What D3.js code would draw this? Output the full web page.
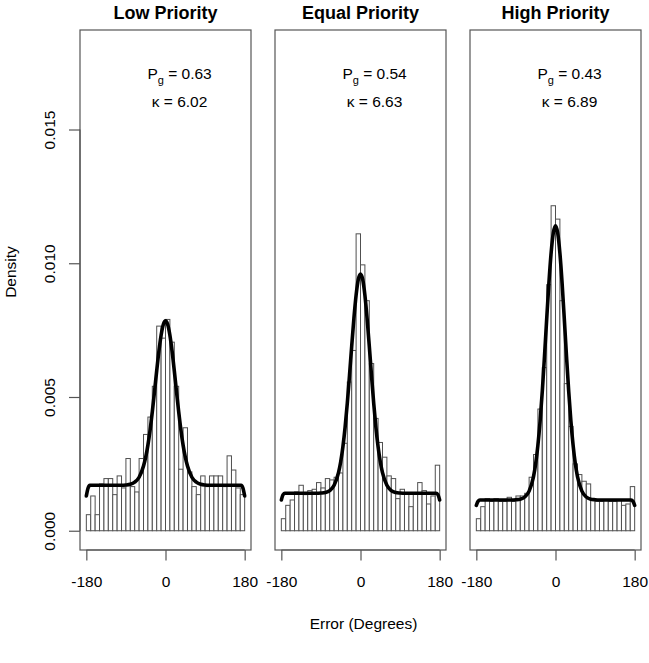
<!DOCTYPE html>
<html>
<head>
<meta charset="utf-8">
<script src="https://cdn.jsdelivr.net/npm/d3@7/dist/d3.min.js"></script>
<style>
  html, body { margin: 0; padding: 0; background: #fff; }
  svg { display: block; font-family: "Liberation Sans", Arial, Helvetica, sans-serif; }
</style>
</head>
<body>
<svg id="chart" width="649" height="663"></svg>
<script>
// ---------------- data ----------------
const panelTitles = ["Low Priority", "Equal Priority", "High Priority"];
const guessRates = ["0.63", "0.54", "0.43"];
const kappas = ["6.02", "6.63", "6.89"];

const binStarts = [-180,-170,-160,-150,-140,-130,-120,-110,-100,-90,-80,-70,-60,-50,-40,-30,-20,-10,
                   0,10,20,30,40,50,60,70,80,90,100,110,120,130,140,150,160,170];
const binWidth = 10;

const lowDensity = [0.00060,0.00130,0.00060,0.00175,0.00195,0.00195,0.00135,0.00205,0.00160,0.00270,0.00165,0.00145,
                    0.00270,0.00360,0.00425,0.00540,0.00765,0.00720,0.00790,0.00705,0.00540,0.00230,0.00385,0.00220,
                    0.00165,0.00135,0.00205,0.00165,0.00205,0.00205,0.00205,0.00165,0.00280,0.00227,0.00160,0.00135];
const equalDensity = [0.00045,0.00095,0.00115,0.00145,0.00170,0.00135,0.00150,0.00155,0.00180,0.00160,0.00195,0.00190,
                      0.00200,0.00216,0.00327,0.00556,0.00674,0.01110,0.00994,0.00860,0.00625,0.00420,0.00330,0.00275,
                      0.00205,0.00195,0.00120,0.00155,0.00140,0.00090,0.00140,0.00180,0.00150,0.00100,0.00130,0.00245];
const highDensity = [0.00045,0.00090,0.00120,0.00110,0.00120,0.00110,0.00110,0.00125,0.00110,0.00130,0.00130,0.00140,
                     0.00200,0.00285,0.00455,0.00610,0.00920,0.01215,0.01165,0.00860,0.00550,0.00390,0.00250,0.00210,
                     0.00185,0.00175,0.00115,0.00110,0.00110,0.00115,0.00110,0.00110,0.00115,0.00095,0.00100,0.00165];

// fitted mixture curve
const fitAngles = [-180,-176,-172,-160,-150,-140,-130,-120,-110,-100,-90,-80,-70,-60,-50,-45,-40,-35,-30,-25,-20,-15,-10,-5,
                   0,5,10,15,20,25,30,35,40,45,50,60,70,80,90,100,110,120,130,140,150,160,172,176,180];
const lowFit = [0.00130,0.00160,0.00170,0.00170,0.00170,0.00170,0.00170,0.00170,0.00170,0.00170,0.00171,0.00174,0.00182,0.00200,
                0.00242,0.00275,0.00320,0.00377,0.00445,0.00520,0.00598,0.00671,0.00731,0.00771,0.00785,
                0.00771,0.00731,0.00671,0.00598,0.00520,0.00445,0.00377,0.00320,0.00275,0.00242,0.00200,0.00182,0.00174,0.00171,
                0.00170,0.00170,0.00170,0.00170,0.00170,0.00170,0.00170,0.00170,0.00160,0.00130];
const equalFit = [0.00115,0.00135,0.00140,0.00140,0.00140,0.00140,0.00140,0.00140,0.00140,0.00140,0.00141,0.00143,0.00150,0.00170,
                  0.00217,0.00258,0.00314,0.00387,0.00477,0.00581,0.00690,0.00794,0.00881,0.00940,0.00960,
                  0.00940,0.00881,0.00794,0.00690,0.00581,0.00477,0.00387,0.00314,0.00258,0.00217,0.00170,0.00150,0.00143,0.00141,
                  0.00140,0.00140,0.00140,0.00140,0.00140,0.00140,0.00140,0.00140,0.00135,0.00115];
const highFit = [0.00095,0.00110,0.00115,0.00115,0.00115,0.00115,0.00115,0.00115,0.00115,0.00115,0.00116,0.00118,0.00126,0.00148,
                 0.00202,0.00251,0.00320,0.00410,0.00522,0.00653,0.00792,0.00926,0.01038,0.01113,0.01140,
                 0.01113,0.01038,0.00926,0.00792,0.00653,0.00522,0.00410,0.00320,0.00251,0.00202,0.00148,0.00126,0.00118,0.00116,
                 0.00115,0.00115,0.00115,0.00115,0.00115,0.00115,0.00115,0.00115,0.00110,0.00095];

const xTicks = [-180, 0, 180];
const yTicks = [0, 0.005, 0.010, 0.015];

const histSeries = [lowDensity, equalDensity, highDensity];
const fitSeries = [lowFit, equalFit, highFit];

// ---------------- layout ----------------
const svg = d3.select("#chart");
const panelLefts = [80, 275, 470];
const panelW = 171;
const plotTop = 30, plotBottom = 550;
const boxColor = "#555";

const y = d3.scaleLinear().domain([-0.00072, 0.01872]).range([plotBottom, plotTop]);

panelLefts.forEach((left, p) => {
  const x = d3.scaleLinear().domain([-194.4, 194.4]).range([left, left + panelW]);
  const g = svg.append("g");

  // bars
  g.selectAll("rect.bar")
    .data(binStarts.map((b, i) => ({ b, v: histSeries[p][i] })))
    .join("rect")
    .attr("class", "bar")
    .attr("x", d => x(d.b))
    .attr("width", d => x(d.b + binWidth) - x(d.b))
    .attr("y", d => y(d.v))
    .attr("height", d => y(0) - y(d.v))
    .attr("fill", "#fff")
    .attr("stroke", "#505050")
    .attr("stroke-width", 1);

  // fit curve
  const line = d3.line()
    .x((d, i) => x(fitAngles[i]))
    .y(d => y(d))
    .curve(d3.curveMonotoneX);
  g.append("path")
    .datum(fitSeries[p])
    .attr("d", line)
    .attr("fill", "none")
    .attr("stroke", "#000")
    .attr("stroke-width", 3.6)
    .attr("stroke-linecap", "round")
    .attr("stroke-linejoin", "round");

  // box
  g.append("rect")
    .attr("x", left).attr("y", plotTop)
    .attr("width", panelW).attr("height", plotBottom - plotTop)
    .attr("fill", "none").attr("stroke", boxColor).attr("stroke-width", 1.2);

  // x axis
  const xAxis = d3.axisBottom(x).tickValues(xTicks).tickSize(10.5).tickSizeOuter(0).tickPadding(15)
    .tickFormat(d3.format("d"));
  const ax = g.append("g").attr("transform", `translate(0,${plotBottom})`).call(xAxis);
  ax.select(".domain").attr("d", `M${x(-180)},0H${x(180)}`).attr("stroke", boxColor).attr("stroke-width", 1.2);
  ax.selectAll(".tick line").attr("stroke", boxColor).attr("stroke-width", 1.2);
  ax.selectAll(".tick text").attr("font-size", 15.5).attr("fill", "#000")
    .attr("font-family", '"Liberation Sans", Arial, sans-serif').text(d => d === -180 ? "-180" : d);

  // title
  svg.append("text")
    .attr("x", left + panelW / 2).attr("y", 19)
    .attr("text-anchor", "middle")
    .attr("font-size", 18).attr("font-weight", "bold")
    .text(panelTitles[p]);

  // annotations
  const ann = svg.append("text")
    .attr("x", x(32)).attr("y", 79)
    .attr("text-anchor", "middle")
    .attr("font-size", 15.5);
  ann.append("tspan").text("P");
  ann.append("tspan").attr("font-size", 11).attr("dy", 4.5).text("g");
  ann.append("tspan").attr("dy", -4.5).text(" = " + guessRates[p]);

  svg.append("text")
    .attr("x", x(32)).attr("y", 107)
    .attr("text-anchor", "middle")
    .attr("font-size", 15.5)
    .text("\u03BA = " + kappas[p]);

  // y axis on first panel
  if (p === 0) {
    const yAxis = d3.axisLeft(y).tickValues(yTicks).tickSize(11).tickSizeOuter(0).tickFormat(d3.format(".3f"));
    const ay = g.append("g").attr("transform", `translate(${left},0)`).call(yAxis);
    ay.select(".domain").attr("d", `M0,${y(0)}V${y(0.015)}`).attr("stroke", boxColor).attr("stroke-width", 1.2);
    ay.selectAll(".tick line").attr("stroke", boxColor).attr("stroke-width", 1.2);
    ay.selectAll(".tick text").remove();
    ay.selectAll(".tick").append("text")
      .attr("transform", "translate(-25,0) rotate(-90)")
      .attr("text-anchor", "middle")
      .attr("font-size", 15.5)
      .attr("fill", "#000")
      .attr("font-family", '"Liberation Sans", Arial, sans-serif')
      .text(d => d3.format(".3f")(d));
  }
});

// axis titles
svg.append("text")
  .attr("transform", `translate(16,272) rotate(-90)`)
  .attr("text-anchor", "middle")
  .attr("font-size", 15.5)
  .text("Density");

svg.append("text")
  .attr("x", panelLefts[1] + panelW / 2 + 3).attr("y", 629)
  .attr("text-anchor", "middle")
  .attr("font-size", 15.5)
  .text("Error (Degrees)");
</script>
</body>
</html>
